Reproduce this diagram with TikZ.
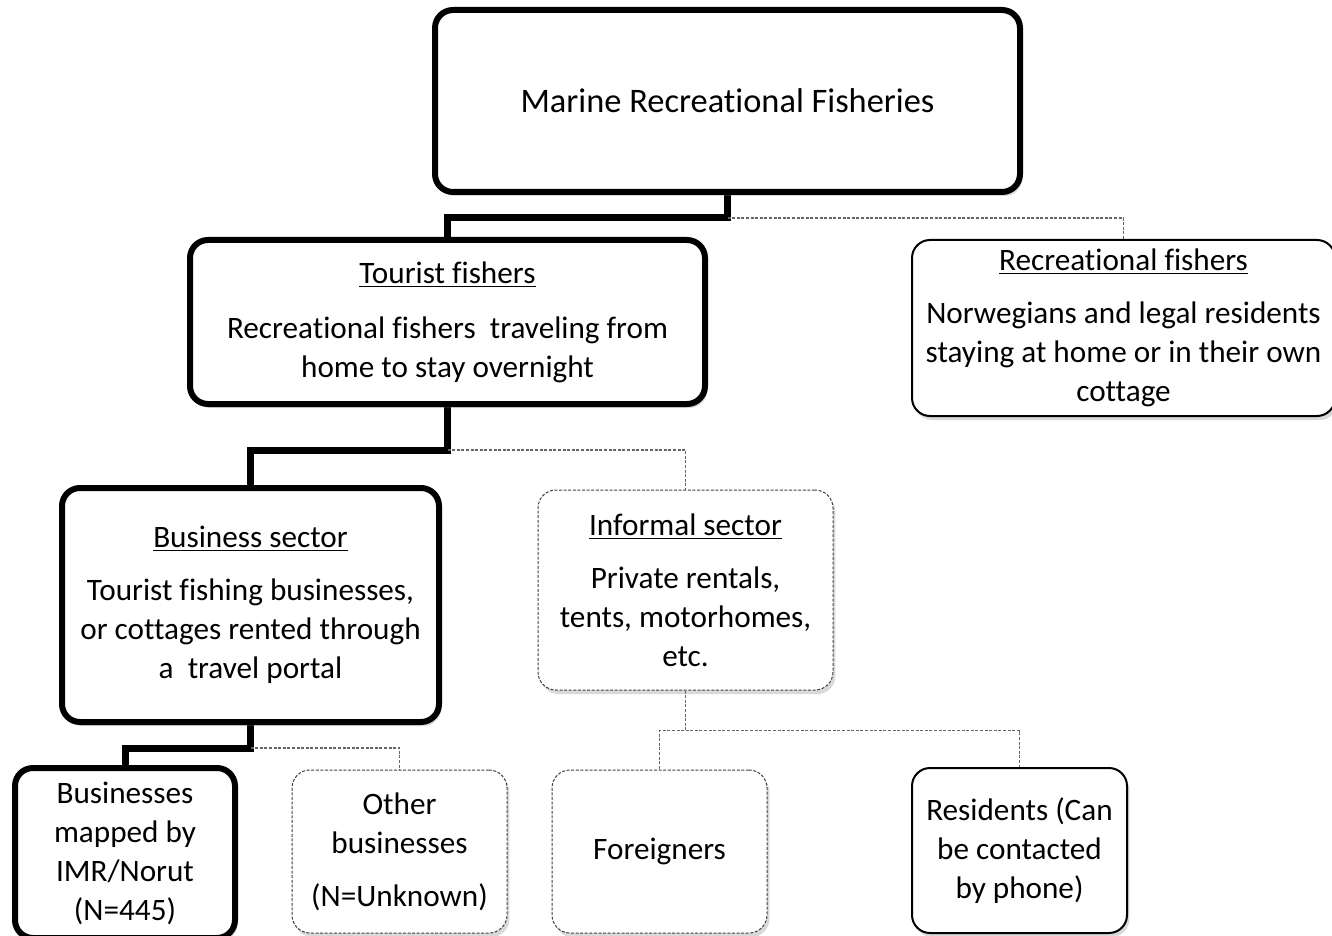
\documentclass[tikz,border=0pt]{standalone}
\usepackage{fontspec}
\setmainfont{Carlito}[Ligatures=NoCommon]
\usetikzlibrary{shadows,backgrounds}
\begin{document}
\begin{tikzpicture}[x=0.5pt,y=-0.5pt,
 box/.style={draw, rounded corners=9pt, align=center, fill=white, inner sep=0pt,
   font=\fontsize{15.6}{19.5}\selectfont,
   drop shadow={shadow xshift=1.2pt, shadow yshift=-2pt, opacity=0.3, fill=gray}},
 thickbox/.style={box, line width=3pt},
 midbox/.style={box, line width=1pt},
 dashbox/.style={box, line width=0.5pt, dash pattern=on 1.5pt off 0.8pt, draw=black!75},
 thickline/.style={line width=3.5pt},
 dashline/.style={line width=0.6pt, dash pattern=on 1.5pt off 0.8pt, draw=black!60}]
\useasboundingbox (0,0) rectangle (1332,936);
\clip (0,0) rectangle (1332,936);

\node[thickbox, minimum width=292.5pt, minimum height=91pt, font=\fontsize{17.2}{20}\selectfont] (top) at (727.5,101)
  {Marine Recreational Fisheries};
\node[thickbox, minimum width=257.5pt, minimum height=82pt] (tour) at (447.5,322)
  {\underline{Tourist fishers}\\[8pt]Recreational fishers\ \ traveling from\\home to stay overnight};
\node[midbox, minimum width=211.5pt, minimum height=88pt] (rec) at (1123.5,328)
  {\underline{Recreational fishers}\\[7pt]Norwegians and legal residents\\staying at home or in their own\\cottage};
\node[thickbox, minimum width=188.5pt, minimum height=117pt] (bus) at (250.5,605)
  {\underline{Business sector}\\[7pt]Tourist fishing businesses,\\or cottages rented through\\a\ \ travel portal};
\node[dashbox, minimum width=147.5pt, minimum height=100pt] (inf) at (685.5,590)
  {\underline{Informal sector}\\[7pt]Private rentals,\\tents, motorhomes,\\etc.};
\node[thickbox, minimum width=110pt, minimum height=85pt] (map) at (125,853)
  {Businesses\\mapped by\\IMR/Norut\\(N=445)};
\node[dashbox, minimum width=107.5pt, minimum height=81.5pt] (oth) at (399.5,851.5)
  {Other\\businesses\\[7pt](N=Unknown)};
\node[dashbox, minimum width=107.5pt, minimum height=81.5pt] (for) at (659.5,851.5)
  {Foreigners};
\node[midbox, minimum width=107.5pt, minimum height=82.5pt] (res) at (1019.5,850.5)
  {Residents (Can\\be contacted\\by phone)};

\begin{scope}[on background layer]
\draw[thickline] (top.south) -- ++(0,23) coordinate (j1) -| (tour.north);
\draw[dashline] (j1) -| (rec.north);
\draw[thickline] (tour.south) -- ++(0,43) coordinate (j2) -| (bus.north);
\draw[dashline] (j2) -| (inf.north);
\draw[thickline] (bus.south) -- ++(0,23) coordinate (j3) -| (map.north);
\draw[dashline] (j3) -| (oth.north);
\draw[dashline] (inf.south) -- ++(0,40) coordinate (j4) -| (for.north);
\draw[dashline] (j4) -| (res.north);
\end{scope}
\end{tikzpicture}
\end{document}
